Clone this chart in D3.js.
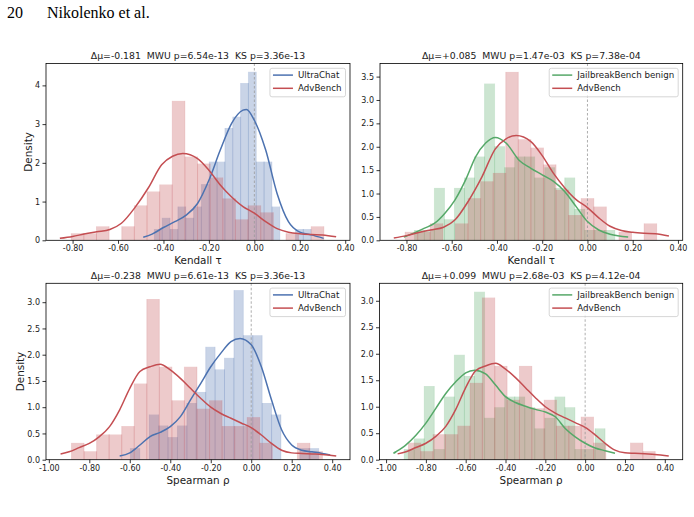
<!DOCTYPE html>
<html>
<head>
<meta charset="utf-8">
<script src="https://cdn.jsdelivr.net/npm/d3@7"></script>
<style>
body { margin: 0; background: #fff; }
svg { font-family: "DejaVu Sans", sans-serif; }
</style>
</head>
<body>
<script>

// series names
var seriesNames = ["UltraChat", "AdvBench", "JailbreakBench benign"];

// panel titles
var titles = [
	"Δμ=-0.181  MWU p=6.54e-13  KS p=3.36e-13",
	"Δμ=+0.085  MWU p=1.47e-03  KS p=7.38e-04",
	"Δμ=-0.238  MWU p=6.61e-13  KS p=3.36e-13",
	"Δμ=+0.099  MWU p=2.68e-03  KS p=4.12e-04"
];

// tick values
var kendallTicks = [-0.8, -0.6, -0.4, -0.2, 0, 0.2, 0.4];
var spearmanTicks = [-1.0, -0.8, -0.6, -0.4, -0.2, 0, 0.2, 0.4];
var yTicks1 = [0, 1, 2, 3, 4];
var yTicks2 = [0, 0.5, 1, 1.5, 2, 2.5, 3, 3.5];
var yTicks3 = [0, 0.5, 1, 1.5, 2, 2.5, 3];

// histograms: [first bin edge, bin width] + density per bin
var advKendallBins = [-0.806, 0.0556];
var advKendallDens = [0.18, 0.18, 0.36, 0, 0.36, 0.9, 1.26, 1.44, 3.6, 2.16, 1.98, 1.62, 1.08, 0.54, 0.9, 0.72, 0, 0.18, 0, 0.36];
var ultraKendallBins = [-0.44, 0.0345];
var ultraKendallDens = [0.29, 0.58, 0.29, 0.87, 0.58, 0.87, 1.45, 2.03, 2.03, 2.9, 3.19, 4.06, 4.35, 2.03, 2.03, 0.87, 0, 0, 0.29, 0.29];
var jbKendallBins = [-0.765, 0.0443];
var jbKendallDens = [0.22, 0.22, 1.12, 0.45, 1.12, 1.34, 1.79, 3.35, 2.01, 1.56, 1.79, 1.79, 1.34, 1.56, 1.12, 1.34, 0.67, 0.22, 0.22, 0.22];

var advSpearmanBins = [-0.888, 0.062];
var advSpearmanDens = [0.32, 0.16, 0.48, 0.48, 0.64, 1.45, 3.06, 1.77, 1.13, 1.77, 0.97, 1.13, 0.64, 0.64, 0.81, 0.32, 0, 0, 0.32, 0.16];
var ultraSpearmanBins = [-0.597, 0.0465];
var ultraSpearmanDens = [0.22, 0, 0.86, 0.65, 0.43, 0.65, 1.08, 1.29, 2.15, 1.72, 1.94, 3.23, 2.37, 2.37, 1.08, 0.86, 0, 0, 0.22, 0.22];
var jbSpearmanBins = [-0.909, 0.05045];
var jbSpearmanDens = [0.2, 0.4, 1.39, 0.2, 1.19, 1.98, 1.58, 3.17, 0.79, 0.99, 1.19, 1.19, 0.99, 0.59, 0.79, 1.19, 0.99, 0.2, 0.2, 0.59];

// kde curves: [x, density]
var advKendallKde = [[-0.856,0.05],[-0.80,0.1],[-0.75,0.16],[-0.694,0.22],[-0.636,0.28],[-0.585,0.44],[-0.525,0.85],[-0.467,1.35],[-0.408,1.95],[-0.36,2.17],[-0.315,2.24],[-0.25,2.11],[-0.20,1.81],[-0.15,1.43],[-0.10,1.12],[-0.05,0.87],[0.00,0.7],[0.05,0.48],[0.10,0.3],[0.15,0.21],[0.20,0.17],[0.25,0.15],[0.30,0.14],[0.36,0.09]];
var ultraKendallKde = [[-0.489,0.08],[-0.45,0.16],[-0.40,0.33],[-0.35,0.48],[-0.30,0.65],[-0.25,0.95],[-0.20,1.55],[-0.15,2.33],[-0.10,3.02],[-0.05,3.36],[-0.035,3.38],[0.00,3.1],[0.05,2.33],[0.10,1.21],[0.15,0.48],[0.20,0.21],[0.25,0.14],[0.305,0.05]];
var jbKendallKde = [[-0.812,0.07],[-0.765,0.16],[-0.72,0.26],[-0.677,0.36],[-0.63,0.58],[-0.586,0.86],[-0.535,1.33],[-0.495,1.78],[-0.45,2.08],[-0.407,2.2],[-0.36,2.08],[-0.30,1.7],[-0.25,1.54],[-0.20,1.40],[-0.15,1.26],[-0.10,1.04],[-0.05,0.72],[0.00,0.40],[0.05,0.22],[0.10,0.13],[0.18,0.07]];

var advSpearmanKde = [[-0.942,0.11],[-0.90,0.15],[-0.85,0.23],[-0.80,0.31],[-0.75,0.44],[-0.70,0.63],[-0.65,0.95],[-0.60,1.36],[-0.55,1.68],[-0.50,1.77],[-0.45,1.82],[-0.40,1.71],[-0.35,1.55],[-0.30,1.36],[-0.25,1.17],[-0.20,1.0],[-0.15,0.88],[-0.10,0.79],[-0.05,0.7],[0.00,0.61],[0.05,0.47],[0.10,0.31],[0.15,0.18],[0.20,0.13],[0.25,0.12],[0.30,0.11],[0.35,0.1],[0.42,0.07]];
var ultraSpearmanKde = [[-0.65,0.07],[-0.60,0.13],[-0.55,0.28],[-0.50,0.44],[-0.45,0.52],[-0.40,0.63],[-0.35,0.82],[-0.30,1.14],[-0.25,1.45],[-0.20,1.77],[-0.15,2.03],[-0.10,2.25],[-0.055,2.31],[0.00,2.19],[0.05,1.77],[0.10,1.14],[0.15,0.57],[0.20,0.28],[0.25,0.18],[0.30,0.15],[0.35,0.12],[0.39,0.09]];
var jbSpearmanKde = [[-0.963,0.12],[-0.95,0.15],[-0.90,0.28],[-0.85,0.46],[-0.80,0.69],[-0.75,0.97],[-0.70,1.25],[-0.65,1.47],[-0.60,1.64],[-0.555,1.69],[-0.50,1.62],[-0.45,1.41],[-0.40,1.19],[-0.35,1.08],[-0.30,1.01],[-0.25,0.95],[-0.20,0.90],[-0.15,0.81],[-0.10,0.59],[-0.05,0.43],[0.00,0.31],[0.05,0.22],[0.10,0.17],[0.15,0.12]];

// seaborn deep colours
var blue = "#4c72b0", red = "#c44e52", green = "#55a868";

var svg = d3.select("body").append("svg")
	.attr("width", 694)
	.attr("height", 517);

// page header
svg.append("text")
	.attr("x", 7).attr("y", 18)
	.style("font-family", "'Liberation Serif', serif")
	.style("font-size", "16px")
	.text("20");
svg.append("text")
	.attr("x", 47).attr("y", 18)
	.style("font-family", "'Liberation Serif', serif")
	.style("font-size", "16px")
	.text("Nikolenko et al.");

function fmt(f) {
	return function(d) { return d3.format(f)(d).replace("\u2212", "-"); };
}

function drawPanel(p) {
	var x = d3.scaleLinear().domain(p.xDomain).range([p.left, p.right]),
		y = d3.scaleLinear().domain([0, p.yMax]).range([p.bottom, p.top]);

	var g = svg.append("g");

	// bars (only the vertical sides get a faint edge, like the seams in the original)
	p.series.forEach(function(s) {
		g.append("g").selectAll("rect")
			.data(s.dens)
			.enter().append("rect")
			.attr("x", function(d, i) { return x(s.bins[0] + i * s.bins[1]); })
			.attr("width", function(d, i) { return x(s.bins[0] + (i + 1) * s.bins[1]) - x(s.bins[0] + i * s.bins[1]); })
			.attr("y", function(d) { return y(d); })
			.attr("height", function(d) { return y(0) - y(d); })
			.attr("fill", s.color)
			.attr("fill-opacity", 0.3)
			.attr("stroke", s.color)
			.attr("stroke-opacity", 0.22)
			.attr("stroke-width", 0.7)
			.attr("stroke-dasharray", function(d, i) {
				var w = x(s.bins[0] + (i + 1) * s.bins[1]) - x(s.bins[0] + i * s.bins[1]),
					h = y(0) - y(d);
				return "0," + w + "," + h + "," + w + "," + h;
			});
	});

	// zero line
	g.append("line")
		.attr("x1", x(0)).attr("x2", x(0))
		.attr("y1", p.top).attr("y2", p.bottom)
		.attr("stroke", "#999")
		.attr("stroke-width", 0.8)
		.attr("stroke-dasharray", "2.5,2");

	// kde lines
	var line = d3.line()
		.x(function(d) { return x(d[0]); })
		.y(function(d) { return y(d[1]); })
		.curve(d3.curveMonotoneX);

	p.series.forEach(function(s) {
		g.append("path")
			.datum(s.kde)
			.attr("fill", "none")
			.attr("stroke", s.color)
			.attr("stroke-width", 1.5)
			.attr("stroke-linejoin", "round")
			.attr("d", line);
	});

	// frame
	g.append("rect")
		.attr("x", p.left).attr("y", p.top)
		.attr("width", p.right - p.left).attr("height", p.bottom - p.top)
		.attr("fill", "none")
		.attr("stroke", "#000")
		.attr("stroke-width", 0.8);

	// axes
	var xa = g.append("g")
		.attr("transform", "translate(0," + p.bottom + ")")
		.call(d3.axisBottom(x).tickValues(p.xTicks).tickFormat(fmt(".2f")).tickSize(3.5).tickPadding(2));
	var ya = g.append("g")
		.attr("transform", "translate(" + p.left + ",0)")
		.call(d3.axisLeft(y).tickValues(p.yTicks).tickFormat(fmt(p.yFormat)).tickSize(3.5).tickPadding(2.5));
	[xa, ya].forEach(function(a) {
		a.select(".domain").remove();
		a.selectAll("line").attr("stroke", "#000").attr("stroke-width", 0.8);
		a.selectAll("text")
			.attr("fill", "#1a1a1a")
			.style("font-family", "'DejaVu Sans', sans-serif")
			.style("font-size", "8px");
	});

	// title (keep the double spaces)
	g.append("text")
		.attr("x", (p.left + p.right) / 2)
		.attr("y", p.top - 4.5)
		.attr("text-anchor", "middle")
		.attr("xml:space", "preserve")
		.style("white-space", "pre")
		.style("font-size", "9.3px")
		.attr("fill", "#1a1a1a")
		.text(p.title);

	// x label
	g.append("text")
		.attr("x", (p.left + p.right) / 2)
		.attr("y", p.bottom + 24)
		.attr("text-anchor", "middle")
		.style("font-size", "10.4px")
		.attr("fill", "#1a1a1a")
		.text(p.xLabel);

	// y label
	if (p.yLabelX) {
		g.append("text")
			.attr("transform", "translate(" + p.yLabelX + "," + (p.top + p.bottom) / 2 + ") rotate(-90)")
			.attr("dy", "0.35em")
			.attr("text-anchor", "middle")
			.style("font-size", "10.4px")
			.attr("fill", "#1a1a1a")
			.text("Density");
	}

	// legend
	var leg = g.append("g");
	var box = leg.append("rect")
		.attr("fill", "#fff")
		.attr("fill-opacity", 0.8)
		.attr("stroke", "#ccc")
		.attr("stroke-width", 0.8)
		.attr("rx", 2);
	var maxW = 0;
	p.series.forEach(function(s, i) {
		leg.append("line")
			.attr("x1", 3).attr("x2", 23)
			.attr("y1", 6.8 + i * 13.2).attr("y2", 6.8 + i * 13.2)
			.attr("stroke", s.color)
			.attr("stroke-width", 1.5);
		var t = leg.append("text")
			.attr("x", 28)
			.attr("y", 6.8 + i * 13.2)
			.attr("dy", "0.35em")
			.style("font-size", "8.7px")
			.attr("fill", "#1a1a1a")
			.text(s.name);
		maxW = Math.max(maxW, t.node().getComputedTextLength());
	});
	var bw = 28 + maxW + 4;
	box.attr("width", bw).attr("height", 28.5);
	leg.attr("transform", "translate(" + (p.right - 4.5 - bw) + "," + (p.top + 4.8) + ")");
}

var kendallDomain = [-0.917, 0.421],
	spearmanDomain3 = [-1.014, 0.488],
	spearmanDomain4 = [-1.033, 0.49];

drawPanel({
	left: 46, right: 350, top: 63.5, bottom: 240.3,
	xDomain: kendallDomain, yMax: 4.565,
	xTicks: kendallTicks, yTicks: yTicks1, yFormat: "d",
	title: titles[0], xLabel: "Kendall τ", yLabelX: 28.5,
	series: [
		{name: seriesNames[0], color: blue, bins: ultraKendallBins, dens: ultraKendallDens, kde: ultraKendallKde},
		{name: seriesNames[1], color: red, bins: advKendallBins, dens: advKendallDens, kde: advKendallKde}
	]
});

drawPanel({
	left: 380, right: 682.7, top: 63.5, bottom: 240.3,
	xDomain: kendallDomain, yMax: 3.78,
	xTicks: kendallTicks, yTicks: yTicks2, yFormat: ".1f",
	title: titles[1], xLabel: "Kendall τ",
	series: [
		{name: seriesNames[2], color: green, bins: jbKendallBins, dens: jbKendallDens, kde: jbKendallKde},
		{name: seriesNames[1], color: red, bins: advKendallBins, dens: advKendallDens, kde: advKendallKde}
	]
});

drawPanel({
	left: 46, right: 350, top: 283.3, bottom: 459.7,
	xDomain: spearmanDomain3, yMax: 3.36,
	xTicks: spearmanTicks, yTicks: yTicks3, yFormat: ".1f",
	title: titles[2], xLabel: "Spearman ρ", yLabelX: 20,
	series: [
		{name: seriesNames[0], color: blue, bins: ultraSpearmanBins, dens: ultraSpearmanDens, kde: ultraSpearmanKde},
		{name: seriesNames[1], color: red, bins: advSpearmanBins, dens: advSpearmanDens, kde: advSpearmanKde}
	]
});

drawPanel({
	left: 379.5, right: 682.7, top: 283.3, bottom: 459.7,
	xDomain: spearmanDomain4, yMax: 3.33,
	xTicks: spearmanTicks, yTicks: yTicks3, yFormat: ".1f",
	title: titles[3], xLabel: "Spearman ρ",
	series: [
		{name: seriesNames[2], color: green, bins: jbSpearmanBins, dens: jbSpearmanDens, kde: jbSpearmanKde},
		{name: seriesNames[1], color: red, bins: advSpearmanBins, dens: advSpearmanDens, kde: advSpearmanKde}
	]
});

</script>
</body>
</html>
